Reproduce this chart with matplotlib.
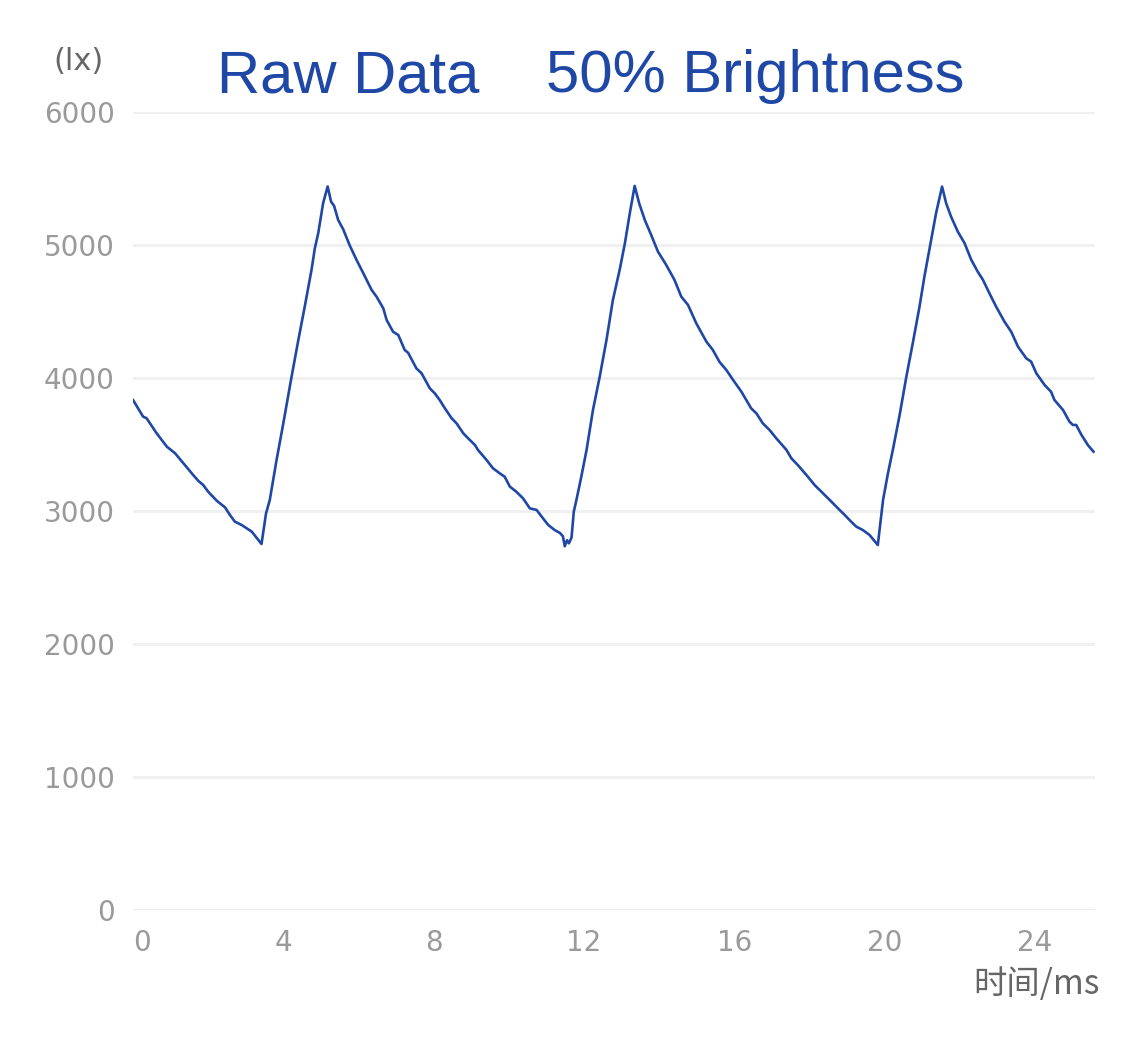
import numpy as np
import matplotlib
matplotlib.use("Agg")
import matplotlib.pyplot as plt

'''
Data read off the reference (time in ms, illuminance in lx)
'''

time_ms = [0.00, 0.27, 0.36, 0.63, 0.90, 1.12, 1.38, 1.60, 1.74, 1.87, 2.00, 2.23,
           2.45, 2.58, 2.71, 2.89, 3.16, 3.42, 3.54, 3.64, 3.82, 4.00, 4.22, 4.40,
           4.57, 4.75, 4.84, 4.93, 5.06, 5.18, 5.27, 5.35, 5.46, 5.59, 5.77, 5.95,
           6.13, 6.35, 6.48, 6.66, 6.75, 6.92, 7.06, 7.23, 7.32, 7.54, 7.68, 7.90,
           8.03, 8.16, 8.30, 8.48, 8.61, 8.79, 8.92, 9.10, 9.18, 9.41, 9.58, 9.76,
           9.89, 10.03, 10.20, 10.38, 10.56, 10.74, 10.91, 11.05, 11.22, 11.36, 11.44,
           11.49, 11.55, 11.60, 11.67, 11.73, 11.80, 11.93, 12.07, 12.24, 12.42, 12.60,
           12.77, 12.95, 13.09, 13.22, 13.35, 13.47, 13.62, 13.79, 13.97, 14.19, 14.41,
           14.59, 14.77, 14.99, 15.26, 15.43, 15.61, 15.79, 15.97, 16.19, 16.32, 16.45,
           16.59, 16.76, 16.94, 17.12, 17.39, 17.52, 17.69, 17.92, 18.14, 18.32, 18.54,
           18.76, 18.94, 19.11, 19.25, 19.42, 19.60, 19.82, 19.96, 20.09, 20.22, 20.40,
           20.58, 20.75, 20.93, 21.06, 21.24, 21.37, 21.53, 21.64, 21.77, 21.95, 22.13,
           22.31, 22.48, 22.62, 22.79, 22.97, 23.19, 23.37, 23.55, 23.77, 23.90, 24.04,
           24.26, 24.43, 24.52, 24.75, 24.92, 25.01, 25.10, 25.24, 25.41, 25.56]

lux = [3835, 3709, 3698, 3584, 3484, 3434, 3346, 3271, 3226, 3195, 3145, 3077,
       3027, 2970, 2920, 2895, 2845, 2752, 2982, 3083, 3383, 3659, 4010, 4286,
       4536, 4812, 4977, 5090, 5316, 5440, 5326, 5295, 5188, 5120, 4995, 4887,
       4787, 4662, 4612, 4524, 4436, 4348, 4323, 4211, 4190, 4073, 4035, 3922,
       3885, 3835, 3772, 3697, 3659, 3584, 3546, 3496, 3459, 3383, 3321, 3283,
       3258, 3183, 3145, 3095, 3020, 3008, 2945, 2895, 2857, 2835, 2810,
       2735, 2780, 2757, 2800, 2995, 3083, 3258, 3459, 3759, 4010, 4286,
       4586, 4812, 5013, 5238, 5444, 5313, 5188, 5075, 4950, 4850, 4737,
       4612, 4549, 4411, 4273, 4211, 4120, 4060, 3985, 3897, 3835, 3772,
       3734, 3659, 3609, 3546, 3459, 3396, 3346, 3271, 3195, 3145, 3083,
       3020, 2970, 2920, 2882, 2857, 2820, 2744, 3083, 3283, 3459, 3720,
       4010, 4261, 4536, 4762, 5038, 5238, 5439, 5313, 5213, 5100, 5013,
       4887, 4799, 4737, 4637, 4536, 4424, 4348, 4236, 4148, 4123, 4035,
       3947, 3897, 3835, 3759, 3672, 3647, 3647, 3572, 3496, 3446]

x_ticks = [0, 4, 8, 12, 16, 20, 24]
y_ticks = [0, 1000, 2000, 3000, 4000, 5000, 6000]

title_left = "Raw Data"
title_right = "50% Brightness"
x_label = "时间/ms"
y_unit = "(lx)"

'''
Styling
'''

blue = "#1f47a6"
tick_grey = "#9a9a9a"
label_grey = "#666666"
fonts = ["DejaVu Sans", "Noto Sans CJK SC"]

plt.rcParams['font.family'] = fonts

fig = plt.figure(figsize=(11.25, 10.4), dpi=100)
ax = fig.add_axes([133/1125, 1 - 910/1040, (1095 - 133)/1125, (910 - 112)/1040])

# grid lines
for yv in y_ticks[1:]:
    ax.axhline(yv, color="#f0f0f0", lw=2.2, zorder=0)
ax.axhline(0, color="#ececec", lw=2.5, zorder=0)
ax.axhline(-25, color="#d4d4d4", lw=1.0, zorder=0)

ax.plot(time_ms, lux, color=blue, lw=1.9, zorder=3)

ax.set_xlim(0, 25.6)
ax.set_ylim(0, 6000)
for s in ax.spines.values():
    s.set_visible(False)
ax.set_xticks(x_ticks)
ax.set_yticks(y_ticks)
ax.tick_params(axis="both", length=0, labelsize=20, labelcolor=tick_grey)
ax.tick_params(axis="y", pad=13)
ax.tick_params(axis="x", pad=14)
ax.get_xticklabels()[0].set_horizontalalignment("left")

# texts
fig.text(217/1125, 1 - 77/1040, title_left, color=blue, fontsize=43,
         family="Liberation Sans", ha="left", va="center")
fig.text(546/1125, 1 - 77/1040, title_right, color=blue, fontsize=43,
         family="Liberation Sans", ha="left", va="center")
fig.text(79/1125, 1 - 62/1040, y_unit, color=label_grey, fontsize=22,
         ha="center", va="center")
fig.text(1100/1125, 1 - 984/1040, x_label, color=label_grey, fontsize=24,
         family=["Noto Sans CJK SC", "DejaVu Sans"], ha="right", va="center")

plt.savefig("out.png", dpi=100, facecolor="white")
